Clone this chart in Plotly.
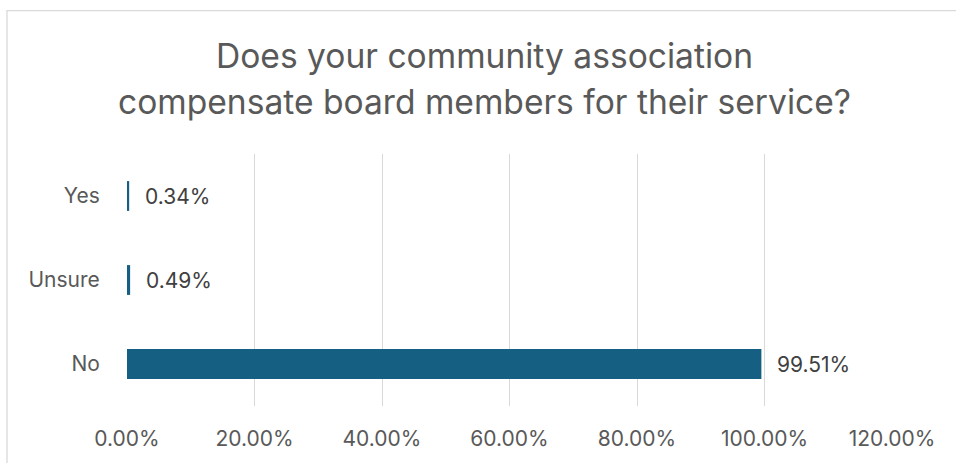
import plotly.graph_objects as go

# Survey responses (percent of respondents)
categories = ["No", "Unsure", "Yes"]
shares = [99.51, 0.49, 0.34]
x_ticks = [0, 20, 40, 60, 80, 100, 120]
x_tick_labels = [f"{v:.2f}%" for v in x_ticks]

title_lines = [
    "Does your community association",
    "compensate board members for their service?",
]

bar_color = "#156082"
font_family = "Inter, Liberation Sans, Arial, sans-serif"
label_size = 21

fig = go.Figure(
    go.Bar(
        y=categories,
        x=shares,
        orientation="h",
        marker=dict(color=bar_color, line=dict(width=0)),
        hoverinfo="skip",
    )
)

# Value labels placed just past the end of each bar
for cat, val in zip(categories, shares):
    fig.add_annotation(
        x=val, y=cat, xref="x", yref="y",
        text=f"{val:.2f}%", showarrow=False,
        xanchor="left", xshift=14,
        font=dict(size=label_size, color="#404040", family=font_family),
    )

# Two-line chart title, centred over the whole chart frame
for text, ypos in zip(title_lines, [1.392, 1.207]):
    fig.add_annotation(
        x=0.4667, y=ypos, xref="paper", yref="paper",
        text=text, showarrow=False,
        xanchor="center", yanchor="middle",
        font=dict(size=33.6, color="#595959", family=font_family),
    )

# Light frame around the whole chart
fig.add_shape(
    type="rect", xref="paper", yref="paper",
    x0=-0.1569, x1=1.3, y0=-0.6, y1=1.569,
    line=dict(color="#d9d9d9", width=1.3), fillcolor="rgba(0,0,0,0)",
    layer="below",
)

fig.update_layout(
    width=956, height=463,
    margin=dict(l=127, r=64, t=154, b=55),
    paper_bgcolor="white", plot_bgcolor="white",
    bargap=0.645,
    showlegend=False,
    font=dict(family=font_family, color="#595959"),
    xaxis=dict(
        range=[0, 120], tickvals=x_ticks, ticktext=x_tick_labels,
        showgrid=True, gridcolor="#d9d9d9", gridwidth=1.3,
        zeroline=False, showline=False,
        ticks="outside", ticklen=14, tickcolor="rgba(0,0,0,0)",
        tickfont=dict(size=label_size, color="#595959"),
        fixedrange=True,
    ),
    yaxis=dict(
        categoryorder="array", categoryarray=categories,
        range=[-0.5, 2.5],
        showgrid=False, zeroline=False, showline=False,
        ticks="outside", ticklen=22, tickcolor="rgba(0,0,0,0)",
        tickfont=dict(size=label_size, color="#595959"),
        fixedrange=True,
    ),
)

fig.write_html("out.html")
